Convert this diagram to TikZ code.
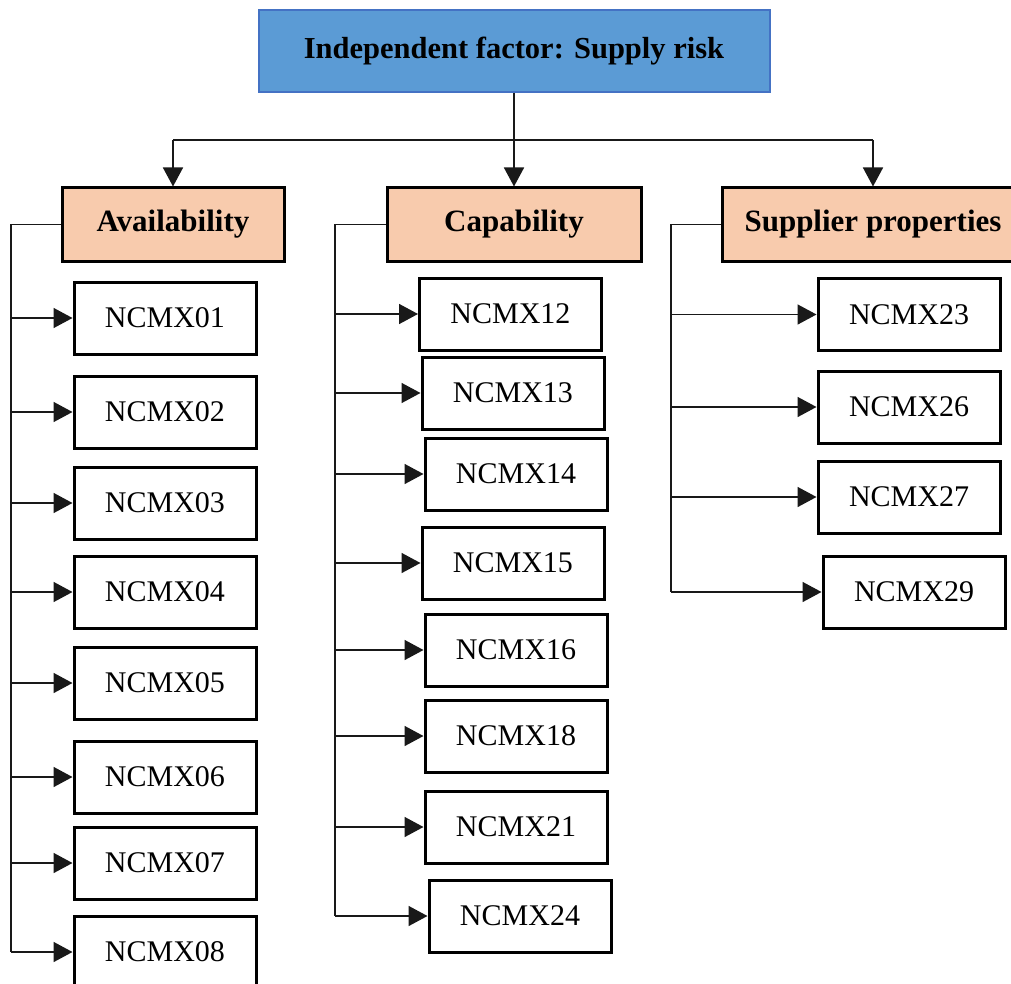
\documentclass[tikz,border=0pt]{standalone}
\usepackage{fontspec}
\setmainfont{Liberation Serif}
\usetikzlibrary{arrows.meta,positioning}

\definecolor{headblue}{HTML}{5B9BD5}
\definecolor{headedge}{HTML}{4472C4}
\definecolor{catpeach}{HTML}{F8CBAD}

\tikzset{
  headbox/.style={draw=headedge,line width=2pt,fill=headblue,minimum width=511,minimum height=82,font=\fontsize{30.5}{35}\selectfont\bfseries},
  catbox/.style={draw=black,line width=3pt,fill=catpeach,minimum height=73,font=\fontsize{31}{36}\selectfont\bfseries},
  itembox/.style={draw=black,line width=3pt,fill=white,minimum width=182,minimum height=72,font=\fontsize{30}{35}\selectfont},
  link/.style={line width=1.6pt,draw=black!90},
  arr/.style={link,-{Triangle[length=19pt,width=20pt]}}
}

\begin{document}
\begin{tikzpicture}[x=1pt,y=-1pt]
        \clip (0,0) rectangle (1011,984);
        \fill[white] (0,0) rectangle (1011,984);
        % top and the three groups
        \node[headbox] (risk) at (514,51) {Independent factor: Supply risk};
        \node[catbox,minimum width=222] (avail) at (173,224.5) {Availability};
        \node[catbox,minimum width=254] (capab) at (514,224.5) {Capability};
        \node[catbox,minimum width=302] (suppl) at (873,224.5) {Supplier properties};
        \coordinate (busL) at (173,140);
        \coordinate (busR) at (873,140);
        \draw[link] (busL) -- (busR);
        \draw[arr] (risk.south) -- (capab.north);
        \draw[arr] (busL) -- (avail.north);
        \draw[arr] (busR) -- (suppl.north);
        % items
        \foreach \n/\x/\y in {01/165/318, 02/165/412, 03/165/503, 04/165/592,
                              05/165/683, 06/165/777, 07/165/863, 08/165/952,
                              12/510.5/314, 13/513/393, 14/516/474, 15/513/563,
                              16/516/650, 18/516/736, 21/516/827, 24/520/916,
                              23/909/314.5, 26/909/407, 27/909/497, 29/914/592} {
          \node[itembox] (n\n) at (\x,\y) {NCMX\n};
        }
        % trunks
        \coordinate (tA) at (11,224.5);
        \coordinate (tC) at (335,224.5);
        \coordinate (tS) at (671,224.5);
        \draw[link] (avail.west) -- (tA) -- (tA |- n08.west);
        \draw[link] (capab.west) -- (tC) -- (tC |- n24.west);
        \draw[link] (suppl.west) -- (tS) -- (tS |- n29.west);
        \foreach \n in {01,02,03,04,05,06,07,08} {
          \draw[arr] (tA |- n\n.west) -- (n\n.west);
        }
        \foreach \n in {12,13,14,15,16,18,21,24} {
          \draw[arr] (tC |- n\n.west) -- (n\n.west);
        }
        \foreach \n in {23,26,27,29} {
          \draw[arr] (tS |- n\n.west) -- (n\n.west);
        }
      \end{tikzpicture}
\end{document}
